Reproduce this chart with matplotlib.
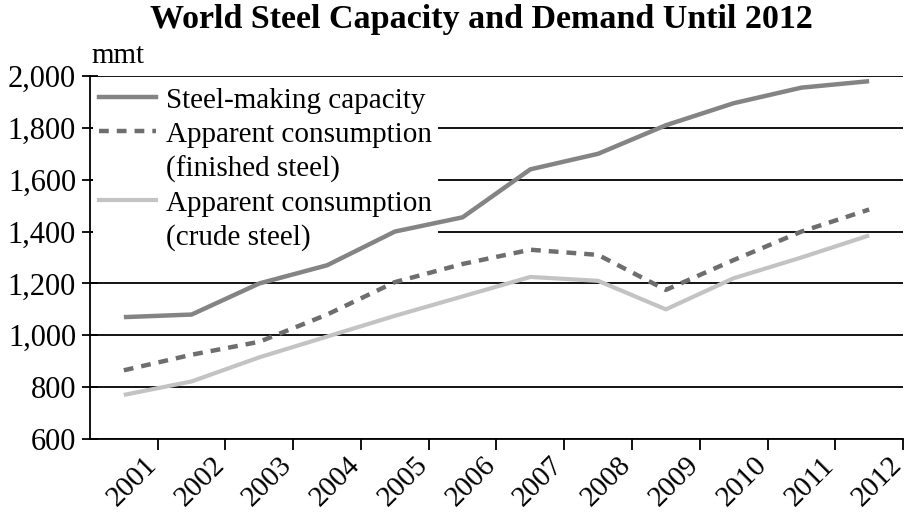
import matplotlib
matplotlib.use('Agg')
from matplotlib import pyplot as plt
from matplotlib.lines import Line2D
from matplotlib.transforms import ScaledTranslation
import matplotlib.ticker as mtick

plt.rcParams['font.family'] = ['Liberation Serif', 'DejaVu Serif']

# 数据
years = ['2001', '2002', '2003', '2004', '2005', '2006',
         '2007', '2008', '2009', '2010', '2011', '2012']
capacity = [1070, 1080, 1200, 1270, 1400, 1455, 1640, 1700, 1810, 1895, 1955, 1980]
finished = [865, 925, 975, 1080, 1205, 1275, 1330, 1310, 1175, 1290, 1400, 1485]
crude = [770, 822, 915, 995, 1075, 1150, 1225, 1210, 1100, 1220, 1300, 1385]

fig = plt.figure(figsize=(9.06, 5.18), dpi=100)
ax = fig.add_axes([0.0993, 0.1525, 0.8974, 0.7008])

x = list(range(len(years)))
ax.plot(x, capacity, color='#848484', lw=3.2, solid_capstyle='butt', zorder=3)
ax.plot(x, finished, color='#6e6e6e', lw=3.2, linestyle=(0, (2.2, 1.8)), zorder=3)
ax.plot(x, crude, color='#c3c3c3', lw=3.0, solid_capstyle='butt', zorder=3)

ax.set_xlim(-0.5, len(years) - 0.5)
ax.set_ylim(600, 2000)

# y轴
ax.yaxis.set_major_locator(mtick.MultipleLocator(200))
ax.yaxis.set_major_formatter(mtick.StrMethodFormatter('{x:,.0f}'))
ax.grid(axis='y', color='black', lw=1.3, zorder=1)
ax.set_axisbelow(True)
ax.tick_params(axis='y', direction='inout', length=12, width=1.3, labelsize=22, pad=4)

# x轴 刻度在类别之间
ax.set_xticks([i + 0.5 for i in x])
ax.set_xticklabels(years, rotation=45, ha='right', va='center', rotation_mode='anchor')
ax.tick_params(axis='x', direction='out', length=8, width=1.3, labelsize=21, pad=8)
shift = ScaledTranslation(-5 / 100, 0, fig.dpi_scale_trans)
for lab in ax.get_xticklabels():
    lab.set_transform(lab.get_transform() + shift)

for s in ['top', 'right']:
    ax.spines[s].set_visible(False)
for s in ['left', 'bottom']:
    ax.spines[s].set_linewidth(1.3)

ax.text(0.002, 1.02, 'mmt', transform=ax.transAxes, fontsize=21, ha='left', va='bottom')
fig.text(0.531, 0.993, 'World Steel Capacity and Demand Until 2012',
         fontsize=24.5, fontweight='bold', ha='center', va='top')

# 图例
blank = Line2D([], [], color='none')
handles = [Line2D([], [], color='#848484', lw=3.2),
           Line2D([], [], color='#6e6e6e', lw=3.2, linestyle=(0, (2.2, 1.8))),
           blank,
           Line2D([], [], color='#c3c3c3', lw=3.0),
           blank]
labels = ['Steel-making capacity', 'Apparent consumption', '(finished steel)',
          'Apparent consumption', '(crude steel)']
leg = ax.legend(handles, labels, loc='upper left', fontsize=21, frameon=True,
                handlelength=1.95, handletextpad=0.34, labelspacing=0.26,
                borderaxespad=0.0, borderpad=0.2, bbox_to_anchor=(0.004, 0.985))
leg.get_frame().set_edgecolor('none')
leg.get_frame().set_facecolor('white')
leg.get_frame().set_alpha(1)
leg.set_zorder(2)

plt.savefig('out.png', dpi=100)
